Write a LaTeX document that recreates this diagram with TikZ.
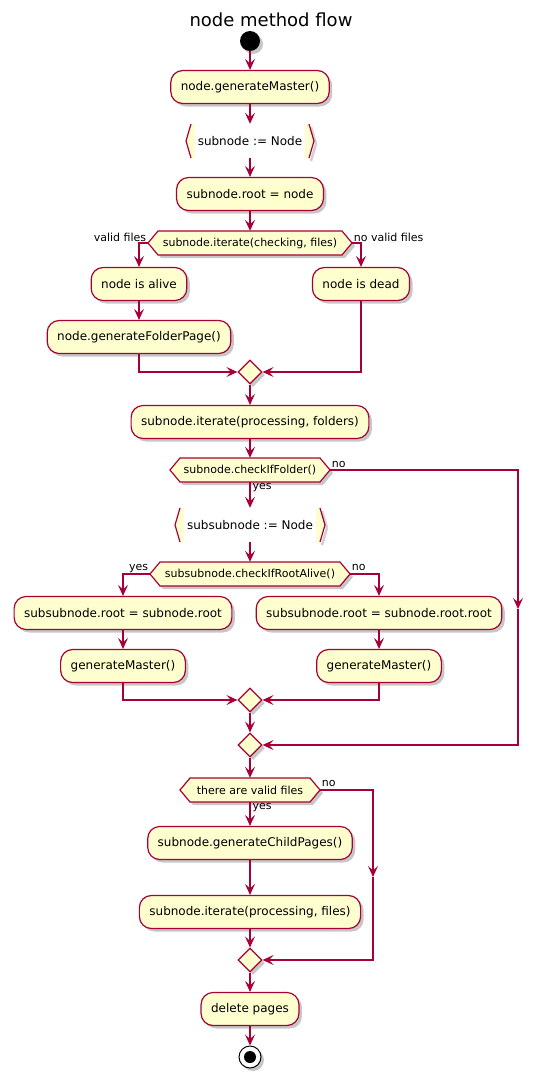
\documentclass[tikz,border=0pt]{standalone}
\usepackage{fontspec}
\setmainfont{DejaVu Sans}
\usetikzlibrary{arrows.meta,shapes.geometric,shadows}

\definecolor{boxfill}{HTML}{FEFECE}
\definecolor{boxline}{HTML}{A80036}

\newcommand\fTitle{\fontsize{18}{21}\selectfont}
\newcommand\fAct{\fontsize{12}{14}\selectfont}
\newcommand\fSmall{\fontsize{11}{13}\selectfont}

\tikzset{
  softshadow/.style={drop shadow={shadow xshift=3pt, shadow yshift=-3pt, fill=black, opacity=0.22}},
  act/.style={draw=boxline, fill=boxfill, rounded corners=12pt, line width=1.2pt,
    minimum height=33pt, inner xsep=10pt, inner ysep=0pt, font=\fAct, softshadow},
  hexshape/.style={draw=boxline, fill=boxfill, line width=1.2pt, line join=miter, softshadow},
  hextext/.style={font=\fSmall, minimum height=24pt, inner sep=0pt},
  merge/.style={diamond, draw=boxline, fill=boxfill, minimum width=24pt, minimum height=24pt,
    inner sep=0pt, line width=1.2pt, softshadow},
  bracketline/.style={draw=boxline, line width=1.2pt},
  flow/.style={draw=boxline, line width=1.1pt, -{Stealth[length=11pt, width=10pt, inset=4.5pt]}},
  lab/.style={font=\fSmall, inner sep=0.5pt},
}

% decision hexagon: name, x, y, half width, text
\newcommand\decision[5]{%
  \draw[hexshape] (#2-#4,#3) -- (#2-#4+10,#3-12) -- (#2+#4-10,#3-12) -- (#2+#4,#3)
    -- (#2+#4-10,#3+12) -- (#2-#4+10,#3+12) -- cycle;
  \node[hextext, minimum width=2*#4] (#1) at (#2,#3) {#5};
}

% angle-bracketed box: name, x, y, half width, text
\newcommand\bracketbox[5]{%
  \fill[boxfill] (#2-#4+5,#3-17) -- (#2-#4,#3) -- (#2-#4+5,#3+17) -- (#2+#4-5,#3+17)
    -- (#2+#4,#3) -- (#2+#4-5,#3-17) -- cycle;
  \fill[white] (#2-#4+9,#3-17) rectangle (#2+#4-9,#3+17);
  \draw[black, opacity=0.18, line width=2.5pt] (#2+#4-3,#3-14) -- (#2+#4+2,#3+3) -- (#2+#4-3,#3+20);
  \draw[bracketline] (#2-#4+5,#3-17) -- (#2-#4,#3) -- (#2-#4+5,#3+17);
  \draw[bracketline] (#2+#4-5,#3-17) -- (#2+#4,#3) -- (#2+#4-5,#3+17);
  \node[font=\fAct, minimum width=2*#4, minimum height=34pt, inner sep=0pt] (#1) at (#2,#3) {#5};
}

\begin{document}
\begin{tikzpicture}[x=1pt, y=-1pt]
\useasboundingbox (0,0) rectangle (542,1084);

\node[font=\fTitle] (title) at (271,20) {node method flow};

% start
\node[circle, fill=black, minimum size=20pt, inner sep=0pt, softshadow] (start) at (250,41) {};
\node[act] (genmaster) at (250,87) {node.generateMaster()};
\bracketbox{subnode}{250}{141}{64}{subnode := Node}
\node[act] (setroot) at (250,194) {subnode.root = node};

% checking files
\decision{checkfiles}{250}{243}{102}{subnode.iterate(checking, files)}
\node[act] (alive) at (139,284) {node is alive};
\node[act] (dead) at (361,284) {node is dead};
\node[act] (folderpage) at (139,337) {node.generateFolderPage()};
\node[merge] (mergeA) at (250,372) {};

\node[act] (iterfolders) at (250,422) {subnode.iterate(processing, folders)};
\decision{isfolder}{250}{470}{80}{subnode.checkIfFolder()}
\bracketbox{subsub}{250}{525}{75}{subsubnode := Node}
\decision{rootalive}{250}{574}{100}{subsubnode.checkIfRootAlive()}
\node[act] (rootyes) at (123,613) {subsubnode.root = subnode.root};
\node[act] (rootno) at (379,613) {subsubnode.root = subnode.root.root};
\node[act] (masteryes) at (123,666) {generateMaster()};
\node[act] (masterno) at (379,666) {generateMaster()};
\node[merge] (mergeB) at (250,700) {};
\node[merge] (mergeC) at (250,745) {};

\decision{validfiles}{250}{790}{70}{there are valid files}
\node[act] (childpages) at (250,843) {subnode.generateChildPages()};
\node[act] (iterfiles) at (250,912) {subnode.iterate(processing, files)};
\node[merge] (mergeD) at (250,960) {};
\node[act] (delete) at (250,1009) {delete pages};

% stop
\node[circle, draw=black, fill=white, line width=1pt, minimum size=22pt, inner sep=0pt, softshadow] (stop) at (250,1057) {};
\node[circle, fill=black, minimum size=12pt, inner sep=0pt] (stopdot) at (stop) {};

\coordinate (folderMid) at (518,609);
\coordinate (filesMid) at (373,877);

% connectors
\draw[flow] (start) -- (genmaster);
\draw[flow] (genmaster) -- (subnode);
\draw[flow] (subnode) -- (setroot);
\draw[flow] (setroot) -- (checkfiles);
\draw[flow] (checkfiles.west) -| (alive.north);
\draw[flow] (checkfiles.east) -| (dead.north);
\draw[flow] (alive) -- (folderpage);
\draw[flow] (folderpage.south) |- (mergeA.west);
\draw[flow] (dead.south) |- (mergeA.east);
\draw[flow] (mergeA) -- (iterfolders);
\draw[flow] (iterfolders) -- (isfolder);
\draw[flow] (isfolder.south) -- (subsub.north);
\draw[flow] (isfolder.east) -| (folderMid);
\draw[flow] (folderMid) |- (mergeC.east);
\draw[flow] (subsub) -- (rootalive);
\draw[flow] (rootalive.west) -| (rootyes.north);
\draw[flow] (rootalive.east) -| (rootno.north);
\draw[flow] (rootyes) -- (masteryes);
\draw[flow] (rootno) -- (masterno);
\draw[flow] (masteryes.south) |- (mergeB.west);
\draw[flow] (masterno.south) |- (mergeB.east);
\draw[flow] (mergeB) -- (mergeC);
\draw[flow] (mergeC) -- (validfiles);
\draw[flow] (validfiles.south) -- (childpages.north);
\draw[flow] (validfiles.east) -| (filesMid);
\draw[flow] (filesMid) |- (mergeD.east);
\draw[flow] (childpages) -- (iterfiles);
\draw[flow] (iterfiles) -- (mergeD);
\draw[flow] (mergeD) -- (delete);
\draw[flow] (delete) -- (stop);

% branch labels
\node[lab, anchor=base east] (lvalid) at ([xshift=-1pt, yshift=2pt]checkfiles.west) {valid files};
\node[lab, anchor=base west] (lnovalid) at ([xshift=1pt, yshift=2pt]checkfiles.east) {no valid files};
\node[lab, anchor=base west] (lfolderno) at ([xshift=1pt, yshift=3pt]isfolder.east) {no};
\node[lab, anchor=north west] (lfolderyes) at ([xshift=2pt]isfolder.south) {yes};
\node[lab, anchor=base east] (laliveyes) at ([xshift=-1pt, yshift=4pt]rootalive.west) {yes};
\node[lab, anchor=base west] (laliveno) at ([xshift=1pt, yshift=4pt]rootalive.east) {no};
\node[lab, anchor=base west] (lvalidno) at ([xshift=1pt, yshift=4pt]validfiles.east) {no};
\node[lab, anchor=north west] (lvalidyes) at ([xshift=2pt]validfiles.south) {yes};
\end{tikzpicture}
\end{document}
